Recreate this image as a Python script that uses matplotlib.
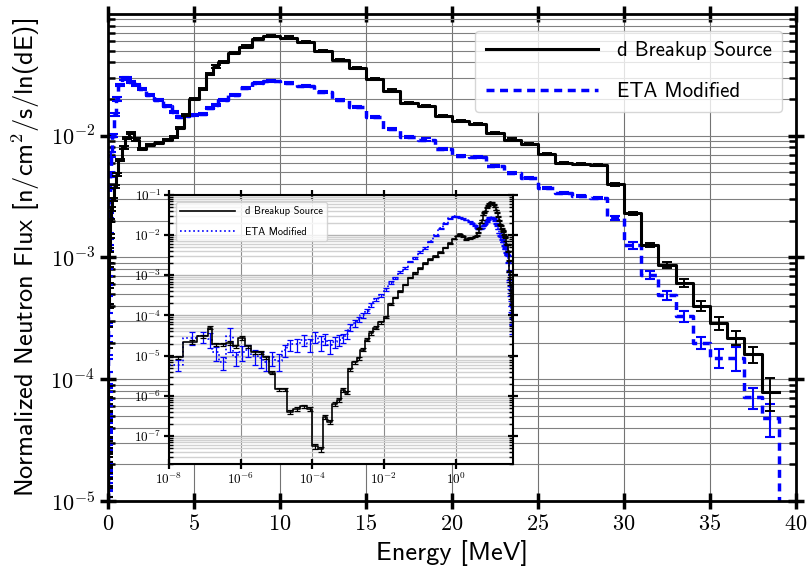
import numpy as np
import matplotlib
matplotlib.use("Agg")
import matplotlib.pyplot as plt
from matplotlib.ticker import FixedLocator, LogLocator, FuncFormatter, NullLocator

plt.rcParams['mathtext.fontset'] = 'cm'
plt.rcParams['axes.unicode_minus'] = False

# energy bin edges [MeV]
edges = [1e-8, 2.5e-8, 6e-8, 1.2e-7, 1.6e-7, 2.5e-7, 4e-7, 6e-7, 8.5e-7, 1.3e-6,
         2e-6, 3e-6, 4.3e-6, 6e-6, 9.3e-6, 1.4e-5, 2e-5, 2.8e-5, 4.6e-5, 7.2e-5,
         1e-4, 1.4e-4, 2e-4, 2.6e-4, 3.6e-4, 5e-4, 6.3e-4, 8.3e-4, 1e-3, 1.3e-3,
         1.8e-3, 2.2e-3, 3e-3, 3.7e-3, 5e-3, 7e-3, 1e-2, 1.3e-2, 1.75e-2, 2.4e-2,
         3.3e-2, 4.6e-2, 6.3e-2, 8.7e-2, 0.12, 0.166, 0.23, 0.32, 0.44, 0.6,
         0.8, 1.0, 1.2, 1.5, 1.8, 2.2, 2.7, 3.2, 3.7, 4.0,
         4.4, 4.7, 5.3, 5.7, 6.1, 6.4, 7.0, 7.6, 8.4, 9.0,
         10, 11, 12, 13, 14, 15, 16, 17, 18, 19,
         20, 21, 22, 23, 24, 25, 26, 27, 28, 29,
         30, 31, 32, 33, 34, 35, 36, 37, 38, 39, 40]

# d breakup source (no counts above 39 MeV)
breakup_flux = [9e-6, 2.2e-5, 3e-5, 5e-5, 1.9e-5, 1.9e-5, 2.1e-5, 1.7e-5, 2.8e-5, 1.7e-5,
                1.2e-5, 1.2e-5, 9e-6, 3.8e-6, 1.45e-6, 1.45e-6, 3.9e-7, 4.7e-7, 5.5e-7, 4.7e-7,
                5.6e-8, 4.7e-8, 3.0e-7, 2.2e-7, 6.3e-7, 8e-7, 1.4e-6, 1.2e-6, 4.6e-6, 6.8e-6,
                8.7e-6, 1.4e-5, 2.5e-5, 3.7e-5, 5e-5, 6.7e-5, 9.3e-5, 1.9e-4, 2.8e-4, 4e-4,
                5.9e-4, 8.7e-4, 1.15e-3, 1.5e-3, 2.0e-3, 2.5e-3, 3.0e-3, 3.8e-3, 4.8e-3, 6.3e-3,
                8.0e-3, 9.5e-3, 1.05e-2, 9.3e-3, 7.8e-3, 8.4e-3, 8.7e-3, 9.2e-3, 9.8e-3, 1.15e-2,
                1.48e-2, 2.0e-2, 2.4e-2, 3.2e-2, 3.7e-2, 4.0e-2, 4.8e-2, 5.4e-2, 6.2e-2, 6.6e-2,
                6.4e-2, 5.9e-2, 5.0e-2, 4.2e-2, 3.6e-2, 2.9e-2, 2.35e-2, 1.86e-2, 1.74e-2, 1.45e-2,
                1.32e-2, 1.25e-2, 1.05e-2, 9.3e-3, 8.6e-3, 7.1e-3, 6.0e-3, 5.9e-3, 5.7e-3, 4.0e-3,
                2.3e-3, 1.26e-3, 8.7e-4, 6.2e-4, 4.0e-4, 2.9e-4, 2.2e-4, 1.6e-4, 7.9e-5]
breakup_relerr = [0.1, 0.1, 0.1, 0.1, 0.1, 0.1, 0.1, 0.1, 0.1, 0.1,
                  0.1, 0.1, 0.1, 0.1, 0.1, 0.1, 0.12, 0.1, 0.1, 0.1,
                  0.15, 0.15, 0.12, 0.12, 0.1, 0.1, 0.1, 0.1, 0.1, 0.1,
                  0.08, 0.08, 0.08, 0.1, 0.08, 0.06, 0.05, 0.05, 0.05, 0.04,
                  0.04, 0.04, 0.04, 0.04, 0.03, 0.03, 0.03, 0.03, 0.03, 0.02,
                  0.02, 0.02, 0.02, 0.02, 0.02, 0.02, 0.02, 0.02, 0.02, 0.02,
                  0.02, 0.02, 0.02, 0.02, 0.02, 0.02, 0.02, 0.02, 0.02, 0.02,
                  0.02, 0.02, 0.02, 0.02, 0.02, 0.02, 0.02, 0.02, 0.02, 0.02,
                  0.02, 0.02, 0.02, 0.02, 0.02, 0.02, 0.02, 0.02, 0.02, 0.03,
                  0.03, 0.04, 0.05, 0.07, 0.1, 0.12, 0.14, 0.15, 0.3]

# ETA modified spectrum
eta_flux = [6e-6, 2.8e-5, 3e-5, 2.6e-5, 1.2e-5, 6.8e-6, 3e-5, 9e-6, 1.25e-5, 1.4e-5,
            1e-5, 8.7e-6, 6.8e-6, 9e-6, 7.5e-6, 1.4e-5, 1.9e-5, 1.9e-5, 2.5e-5, 1.9e-5,
            3e-5, 2.2e-5, 2.6e-5, 1.8e-5, 2.2e-5, 2.5e-5, 2.7e-5, 3.5e-5, 5e-5, 6.5e-5,
            8e-5, 1e-4, 1.3e-4, 1.8e-4, 2.5e-4, 3.2e-4, 4.5e-4, 6.5e-4, 8.5e-4, 1.2e-3,
            1.5e-3, 2.2e-3, 2.7e-3, 3.8e-3, 4.8e-3, 7e-3, 1.0e-2, 1.5e-2, 2.0e-2, 2.6e-2,
            2.95e-2, 2.97e-2, 2.75e-2, 2.6e-2, 2.4e-2, 2.15e-2, 1.97e-2, 1.76e-2, 1.57e-2, 1.42e-2,
            1.45e-2, 1.48e-2, 1.5e-2, 1.7e-2, 1.8e-2, 1.95e-2, 2.15e-2, 2.45e-2, 2.7e-2, 2.8e-2,
            2.7e-2, 2.56e-2, 2.3e-2, 1.97e-2, 1.73e-2, 1.42e-2, 1.14e-2, 9.8e-3, 9.3e-3, 7.8e-3,
            6.8e-3, 6.7e-3, 5.6e-3, 4.9e-3, 4.5e-3, 3.7e-3, 3.4e-3, 3.2e-3, 3.1e-3, 2.1e-3,
            1.26e-3, 7.2e-4, 4.9e-4, 3.3e-4, 2.0e-4, 1.5e-4, 1.5e-4, 7.1e-5, 4.8e-5, 0.0]
eta_relerr = [0.3, 0.35, 0.3, 0.4, 0.4, 0.35, 0.6, 0.4, 0.4, 0.35,
              0.4, 0.45, 0.4, 0.4, 0.45, 0.35, 0.3, 0.35, 0.3, 0.35,
              0.3, 0.4, 0.3, 0.4, 0.3, 0.3, 0.25, 0.25, 0.2, 0.2,
              0.15, 0.15, 0.12, 0.12, 0.1, 0.1, 0.08, 0.08, 0.06, 0.06,
              0.05, 0.05, 0.05, 0.04, 0.04, 0.04, 0.03, 0.03, 0.03, 0.02,
              0.02, 0.02, 0.02, 0.02, 0.02, 0.02, 0.02, 0.02, 0.02, 0.02,
              0.02, 0.02, 0.02, 0.02, 0.02, 0.02, 0.02, 0.02, 0.02, 0.02,
              0.02, 0.02, 0.02, 0.02, 0.02, 0.02, 0.02, 0.02, 0.02, 0.02,
              0.02, 0.02, 0.02, 0.02, 0.02, 0.02, 0.02, 0.02, 0.02, 0.04,
              0.06, 0.07, 0.08, 0.1, 0.12, 0.18, 0.22, 0.2, 0.3, 0.0]

labels = ["d Breakup Source", "ETA Modified"]
SANS = 'cmss10'


def log_label(v, pos):
    return r"$10^{%d}$" % int(round(np.log10(v)))


def step_xy(e, f):
    e = np.asarray(e, dtype=float)
    f = np.asarray(f, dtype=float)
    return e[:len(f) + 1], np.append(f, f[-1])


def draw_series(ax, e, f, rel, color, ls, lw, elw, cap, label=None):
    x, y = step_xy(e, f)
    line, = ax.step(x, y, where='post', color=color, ls=ls, lw=lw, label=label)
    f = np.asarray(f, dtype=float)
    mid = 0.5 * (x[:-1] + x[1:])
    err = f * np.asarray(rel)
    ok = f > 0
    ax.errorbar(mid[ok], f[ok], yerr=err[ok], fmt='none', ecolor=color,
                elinewidth=elw, capsize=cap, capthick=elw)
    return line


fig = plt.figure(figsize=(8.11, 5.73), dpi=100)
ax = fig.add_axes([0.1332, 0.1257, 0.8483, 0.8499])

draw_series(ax, edges, eta_flux, eta_relerr, 'b', (0, (2.3, 1.6)), 2.5, 1.5, 3.5, labels[1])
draw_series(ax, edges, breakup_flux, breakup_relerr, 'k', '-', 2.2, 1.4, 3.5, labels[0])

ax.set_yscale('log')
ax.set_xlim(0, 40)
ax.set_ylim(1e-5, 0.0999)
ax.xaxis.set_major_locator(FixedLocator([0, 5, 10, 15, 20, 25, 30, 35, 40]))
ax.xaxis.set_major_formatter(FuncFormatter(lambda v, p: r"$%d$" % v))
ax.yaxis.set_major_locator(LogLocator(base=10, numticks=10))
ax.yaxis.set_minor_locator(LogLocator(base=10, subs=np.arange(2, 10), numticks=20))
ax.yaxis.set_major_formatter(FuncFormatter(log_label))
ax.tick_params(which='major', direction='inout', length=12, width=2.5,
               labelsize=16, top=True, right=True)
ax.tick_params(which='minor', direction='in', length=5, width=1.8, right=True)
ax.grid(True, which='major', axis='x', color='0.45', lw=0.8)
ax.grid(True, which='both', axis='y', color='0.5', lw=0.8)
for s in ax.spines.values():
    s.set_linewidth(2)

ax.set_xlabel("Energy [MeV]", fontfamily=SANS, fontsize=19, labelpad=4)
ax.set_ylabel(r"Normalized Neutron Flux [n/cm$^\mathsf{2}$/s/ln(dE)]",
              fontfamily=SANS, fontsize=19, labelpad=6)

h, l = ax.get_legend_handles_labels()
leg = ax.legend(h[::-1], l[::-1], loc='upper right', bbox_to_anchor=(0.98, 0.965),
                borderaxespad=0, prop={'family': SANS, 'size': 15},
                handlelength=5.4, handletextpad=0.9, labelspacing=1.05,
                borderpad=0.5)

# inset on log energy scale
ins = fig.add_axes([0.2084, 0.1902, 0.4242, 0.4695])
draw_series(ins, edges, eta_flux, eta_relerr, 'b', ':', 1.2, 0.9, 2, labels[1])
draw_series(ins, edges, breakup_flux, breakup_relerr, 'k', '-', 1.2, 0.9, 2, labels[0])
ins.set_xscale('log')
ins.set_yscale('log')
ins.set_xlim(1e-8, 40)
ins.set_ylim(2e-8, 1e-1)
ins.xaxis.set_major_locator(FixedLocator([1e-8, 1e-6, 1e-4, 1e-2, 1e0]))
ins.xaxis.set_minor_locator(NullLocator())
ins.xaxis.set_major_formatter(FuncFormatter(log_label))
ins.yaxis.set_major_locator(LogLocator(base=10, numticks=12))
ins.yaxis.set_minor_locator(LogLocator(base=10, subs=np.arange(2, 10), numticks=20))
ins.yaxis.set_major_formatter(FuncFormatter(log_label))
ins.tick_params(which='major', direction='inout', length=7, width=1.6,
                labelsize=9.5, top=True, right=True, pad=2)
ins.tick_params(which='minor', direction='in', length=3, width=1.0, right=True)
ins.grid(True, which='major', axis='x', color='0.55', lw=0.8)
ins.grid(True, which='minor', axis='y', color='0.82', lw=1.0)
ins.grid(True, which='major', axis='y', color='0.7', lw=1.0)
for s in ins.spines.values():
    s.set_linewidth(1.5)
h, l = ins.get_legend_handles_labels()
ins.legend(h[::-1], l[::-1], loc='upper left', prop={'family': SANS, 'size': 7.5},
           handlelength=5.2, handletextpad=1.0, labelspacing=1.0, borderaxespad=0.7)

fig.savefig("out.png", dpi=100)
